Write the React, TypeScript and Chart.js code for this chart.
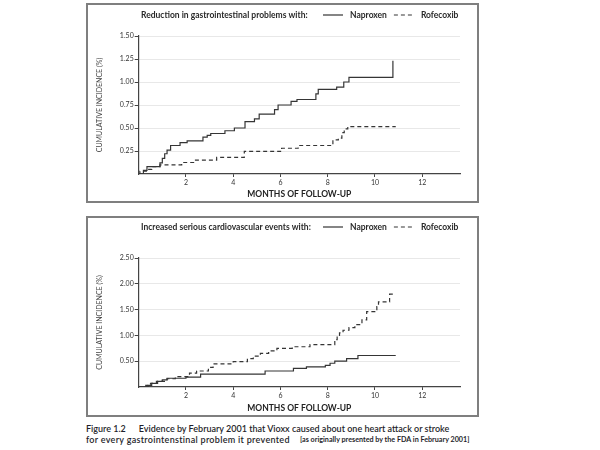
import React, { useEffect, useRef } from 'react';
import { Chart, registerables } from 'chart.js';

Chart.register(...registerables);

const seriesNames = ['Naproxen', 'Rofecoxib'];
const giTitle = 'Reduction in gastrointestinal problems with:';
const cvTitle = 'Increased serious cardiovascular events with:';
const xAxisTitle = 'MONTHS OF FOLLOW-UP';
const yAxisTitle = 'CUMULATIVE INCIDENCE (%)';

// Gastrointestinal problems (top panel)
const giNapMonths = [0, 0.2, 0.35, 0.9, 1.0, 1.1, 1.2, 1.35, 1.75, 2.05, 2.72, 2.9, 3.05, 3.65, 4.05, 4.5, 4.9, 5.1, 5.75, 5.9, 6.45, 6.7, 7.5, 7.6, 8.38, 8.68, 8.9, 10.76, 10.76];
const giNapValues = [0, 0.04, 0.08, 0.12, 0.17, 0.22, 0.26, 0.31, 0.34, 0.36, 0.40, 0.42, 0.44, 0.47, 0.50, 0.57, 0.60, 0.65, 0.70, 0.75, 0.79, 0.81, 0.87, 0.92, 0.945, 1.00, 1.05, 1.05, 1.23];
const giRofMonths = [0, 0.05, 0.35, 0.55, 0.9, 1.82, 2.35, 3.3, 4.47, 6.05, 6.75, 8.22, 8.45, 8.6, 8.7, 8.85, 10.88];
const giRofValues = [0, 0.03, 0.05, 0.08, 0.10, 0.125, 0.15, 0.18, 0.245, 0.28, 0.31, 0.37, 0.39, 0.45, 0.49, 0.515, 0.515];

// Serious cardiovascular events (bottom panel)
const cvNapMonths = [0, 0.4, 0.55, 0.75, 1.0, 1.2, 2.0, 2.62, 5.35, 6.55, 7.1, 7.9, 8.1, 8.3, 8.8, 9.28, 10.88];
const cvNapValues = [0, 0.03, 0.07, 0.11, 0.14, 0.17, 0.19, 0.25, 0.31, 0.36, 0.39, 0.42, 0.46, 0.50, 0.55, 0.61, 0.61];
const cvRofMonths = [0, 0.3, 0.5, 0.8, 1.2, 1.55, 2.15, 2.45, 2.95, 3.15, 4.0, 4.6, 4.85, 5.15, 5.5, 5.85, 6.5, 7.25, 8.3, 8.4, 8.5, 8.65, 8.9, 9.15, 9.45, 9.65, 10.08, 10.15, 10.62, 10.87];
const cvRofValues = [0, 0.03, 0.07, 0.11, 0.16, 0.20, 0.27, 0.31, 0.38, 0.45, 0.49, 0.55, 0.60, 0.65, 0.70, 0.75, 0.78, 0.82, 0.92, 1.00, 1.05, 1.10, 1.15, 1.21, 1.30, 1.46, 1.56, 1.65, 1.80, 1.80];

const monthTicks = [2, 4, 6, 8, 10, 12];
const monthLabels = ['2', '4', '6', '8', '10', '12'];
const giYTicks = [0.25, 0.5, 0.75, 1.0, 1.25, 1.5];
const giYLabels = ['0.25', '0.50', '0.75', '1.00', '1.25', '1.50'];
const cvYTicks = [0.5, 1.0, 1.5, 2.0, 2.5];
const cvYLabels = ['0.50', '1.00', '1.50', '2.00', '2.50'];

const FONT = 'Lato';
const INK = '#353535';

const headerPlugin = {
  id: 'header',
  afterDraw(chart: any, _args: any, opts: any) {
    const ctx = chart.ctx as CanvasRenderingContext2D;
    ctx.save();
    ctx.font = `bold ${opts.size}px ${FONT}`;
    ctx.fillStyle = '#2a2a2a';
    ctx.textBaseline = 'middle';
    ctx.textAlign = 'left';
    ctx.fillText(opts.text, opts.x, opts.y);
    let x = opts.legendX;
    chart.data.datasets.forEach((ds: any) => {
      ctx.beginPath();
      ctx.setLineDash(ds.borderDash || []);
      ctx.strokeStyle = ds.borderColor;
      ctx.lineWidth = 1.2;
      ctx.moveTo(x, opts.y);
      ctx.lineTo(x + 20, opts.y);
      ctx.stroke();
      ctx.setLineDash([]);
      x += 27;
      ctx.fillText(ds.label, x, opts.y);
      x += ctx.measureText(ds.label).width + 7;
    });
    ctx.restore();
  },
};

function toPoints(xs: number[], ys: number[]) {
  return xs.map((x, i) => ({ x, y: ys[i] }));
}

function makeConfig(p: {
  title: string;
  nap: { x: number; y: number }[];
  rof: { x: number; y: number }[];
  yMax: number;
  yTicks: number[];
  yLabels: string[];
  padTop: number;
  headerY: number;
  xAxisH: number;
}): any {
  return {
    type: 'line',
    data: {
      datasets: [
        {
          label: seriesNames[0],
          data: p.nap,
          borderColor: INK,
          borderWidth: 1.2,
          pointRadius: 0,
          stepped: 'before',
          fill: false,
        },
        {
          label: seriesNames[1],
          data: p.rof,
          borderColor: INK,
          borderWidth: 1.2,
          borderDash: [4, 3],
          pointRadius: 0,
          stepped: 'before',
          fill: false,
        },
      ],
    },
    options: {
      responsive: false,
      animation: false,
      layout: { padding: { top: p.padTop, right: 18, left: 0, bottom: 0 } },
      plugins: {
        legend: { display: false },
        tooltip: { enabled: false },
        header: { text: p.title, x: 54, y: p.headerY, legendX: 236, size: 8.5 },
      },
      scales: {
        x: {
          type: 'linear',
          min: 0,
          max: 13.6,
          afterBuildTicks: (s: any) => {
            s.ticks = monthTicks.map((v) => ({ value: v }));
          },
          afterFit: (s: any) => {
            s.height = p.xAxisH;
          },
          ticks: {
            callback: (_v: any, i: number) => monthLabels[i],
            font: { family: FONT, size: 7 },
            color: '#333',
            padding: 2,
            maxRotation: 0,
            autoSkip: false,
          },
          grid: { drawOnChartArea: false, tickColor: '#444', tickLength: 3 },
          border: { color: '#444', width: 1.2 },
          title: {
            display: true,
            text: xAxisTitle,
            font: { family: FONT, size: 8.5, weight: 'bold' },
            color: '#222',
            padding: { top: 0, bottom: 3 },
          },
        },
        y: {
          type: 'linear',
          min: 0,
          max: p.yMax,
          afterBuildTicks: (s: any) => {
            s.ticks = p.yTicks.map((v) => ({ value: v }));
          },
          afterFit: (s: any) => {
            s.width = 51.7;
          },
          ticks: {
            callback: (_v: any, i: number) => p.yLabels[i],
            font: { family: FONT, size: 7 },
            color: '#333',
            padding: 1,
          },
          grid: { color: '#e8e8e8', tickColor: '#444', tickLength: 4 },
          border: { color: '#444', width: 1.2 },
          title: {
            display: true,
            text: yAxisTitle,
            font: { family: FONT, size: 7 },
            color: '#444',
            padding: { top: 9, bottom: 0 },
          },
        },
      },
    },
    plugins: [headerPlugin],
  };
}

function Panel(props: { config: any; left: number; top: number; width: number; height: number }) {
  const ref = useRef<HTMLCanvasElement | null>(null);
  useEffect(() => {
    if (!ref.current) return;
    const chart = new Chart(ref.current, props.config);
    return () => chart.destroy();
  }, []);
  return (
    <canvas
      ref={ref}
      width={props.width}
      height={props.height}
      style={{ position: 'absolute', left: props.left, top: props.top, width: props.width, height: props.height }}
    />
  );
}

const boxStyle = (left: number, top: number, w: number, h: number): React.CSSProperties => ({
  position: 'absolute',
  left,
  top,
  width: w,
  height: h,
  border: '2px solid #7f7f7f',
  boxSizing: 'border-box',
});

export default function App() {
  const giConfig = makeConfig({
    title: giTitle,
    nap: toPoints(giNapMonths, giNapValues),
    rof: toPoints(giRofMonths, giRofValues),
    yMax: 1.5,
    yTicks: giYTicks,
    yLabels: giYLabels,
    padTop: 32,
    headerY: 11,
    xAxisH: 28,
  });
  const cvConfig = makeConfig({
    title: cvTitle,
    nap: toPoints(cvNapMonths, cvNapValues),
    rof: toPoints(cvRofMonths, cvRofValues),
    yMax: 2.5,
    yTicks: cvYTicks,
    yLabels: cvYLabels,
    padTop: 41,
    headerY: 10,
    xAxisH: 29,
  });
  return (
    <div style={{ position: 'absolute', left: 0, top: 0, width: 600, height: 450, background: '#fff', overflow: 'hidden' }}>
      <div style={boxStyle(86, 3, 393, 200)} />
      <div style={boxStyle(86, 216, 393, 201)} />
      <Panel config={giConfig} left={87} top={4} width={391} height={198} />
      <Panel config={cvConfig} left={87} top={217} width={391} height={199} />
      <div
        style={{
          position: 'absolute',
          left: 86,
          top: 423,
          width: 420,
          fontFamily: FONT,
          fontWeight: 600,
          fontSize: 9,
          lineHeight: '11px',
          color: '#1f1f2b',
          whiteSpace: 'nowrap',
        }}
      >
        <div>
          <span style={{ marginRight: 13 }}>Figure 1.2</span>
          Evidence by February 2001 that Vioxx caused about one heart attack or stroke
        </div>
        <div style={{ position: 'relative' }}>
          <span style={{ letterSpacing: 0.3 }}>for every gastrointenstinal problem it prevented</span>
          <span style={{ position: 'absolute', left: 214, top: 0, fontSize: 7.2, fontWeight: 700 }}>
            [as originally presented by the FDA in February 2001]
          </span>
        </div>
      </div>
    </div>
  );
}
